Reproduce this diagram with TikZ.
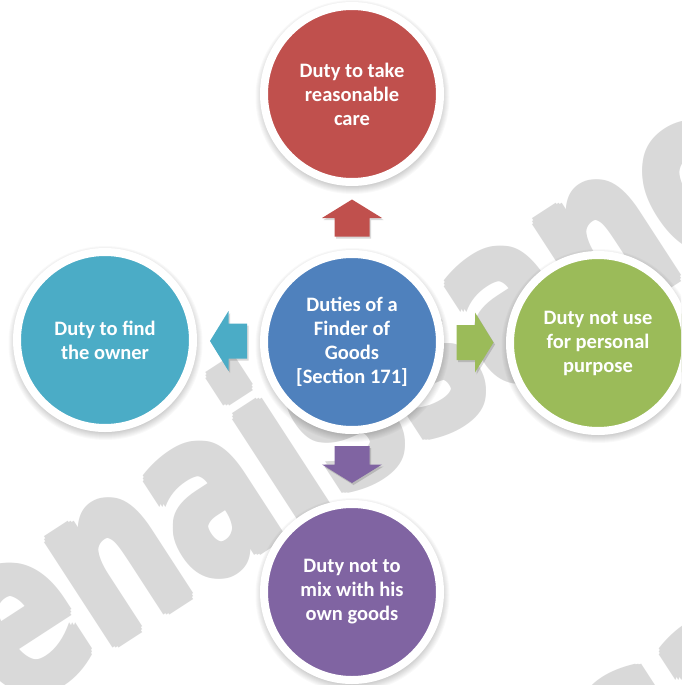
\documentclass[tikz,border=0pt]{standalone}
\usepackage{fontspec}
\usepackage{graphicx}
\setmainfont{Carlito}
\newfontfamily\wmfont{DejaVu Sans}
\usetikzlibrary{calc}

\definecolor{dutyred}{HTML}{C0504D}
\definecolor{dutyblue}{HTML}{4F81BD}
\definecolor{dutyteal}{HTML}{4BACC6}
\definecolor{dutygreen}{HTML}{9BBB59}
\definecolor{dutypurple}{HTML}{8064A2}
\definecolor{wmgrey}{HTML}{D9D9D9}

\newcommand\wmword{\scalebox{0.705}[1]{Renaissance}}

\tikzset{
  duty/.style={circle, minimum size=176pt, inner sep=0pt, draw=white,
    line width=8pt, text=white, align=center,
    font=\fontsize{20.5}{24}\selectfont\bfseries},
  wmark/.style={text=wmgrey, inner sep=0pt, anchor=base west, rotate=33,
    font=\wmfont\bfseries\fontsize{230}{230}\selectfont},
  blockarr/.pic={
    \path[pic actions] (-18.5,-17.5) -- (0,-17.5) -- (0,-30) -- (18.5,0)
      -- (0,30) -- (0,17.5) -- (-18.5,17.5) -- cycle;
  },
  arrshadow/.style={fill=black, fill opacity=0.15},
}

\begin{document}
\begin{tikzpicture}[x=1pt, y=-1pt]
  \useasboundingbox (0,0) rectangle (681,685);
  \clip (0,0) rectangle (681,685);
  \fill[white] (0,0) rectangle (681,685);

  % watermark lettering behind the diagram (overprinted to thicken strokes)
  \coordinate (wmo1) at (-93,780);
  \coordinate (wmo2) at (122,1148);
  \foreach \o in {wmo1,wmo2}{
    \foreach \dx in {-3,0,3}{
      \foreach \dy in {-3,0,3}{
        \node[wmark] at ($(\o)+(\dx,\dy)$) {\wmword};
      }
    }
  }

  % circle centres
  \coordinate (pc) at (352,342);
  \coordinate (pt) at (352,94);
  \coordinate (pl) at (105,340);
  \coordinate (pr) at (598,343);
  \coordinate (pb) at (352,592);

  % soft shadows under the circles
  \foreach \c in {pc,pt,pl,pr,pb}{
    \foreach \k in {0,...,9}{
      \fill[black, opacity=0.025] ($(\c)+(0.5,3)$) circle [radius={(88+\k)*1pt}];
    }
  }

  % block arrows from the centre towards each duty
  \coordinate (mu) at ($(pc)!0.5!(pt)$);
  \coordinate (md) at ($(pc)!0.49!(pb)$);
  \coordinate (ml) at ($(pc)!0.5!(pl)$);
  \coordinate (mr) at ($(pc)!0.5!(pr)$);
  \pic[arrshadow, rotate=90] at ($(mu)+(1.5,2)$) {blockarr};
  \pic[arrshadow, rotate=-90] at ($(md)+(1.5,2)$) {blockarr};
  \pic[arrshadow, rotate=180] at ($(ml)+(1.5,2)$) {blockarr};
  \pic[arrshadow] at ($(mr)+(1.5,2)$) {blockarr};
  \pic[fill=dutyred, rotate=90] (aup) at (mu) {blockarr};
  \pic[fill=dutypurple, rotate=-90] (adown) at (md) {blockarr};
  \pic[fill=dutyteal, rotate=180] (aleft) at (ml) {blockarr};
  \pic[fill=dutygreen] (aright) at (mr) {blockarr};

  % circles
  \node[duty, fill=dutyblue] (centre) at (pc) {Duties of a\\Finder of\\Goods\\{[Section 171]}};
  \node[duty, fill=dutyred] (care) at (pt) {Duty to take\\reasonable\\care};
  \node[duty, fill=dutyteal] (owner) at (pl) {Duty to find\\the owner};
  \node[duty, fill=dutygreen] (personal) at (pr) {Duty not use\\for personal\\purpose};
  \node[duty, fill=dutypurple] (mix) at (pb) {Duty not to\\mix with his\\own goods};
\end{tikzpicture}
\end{document}
